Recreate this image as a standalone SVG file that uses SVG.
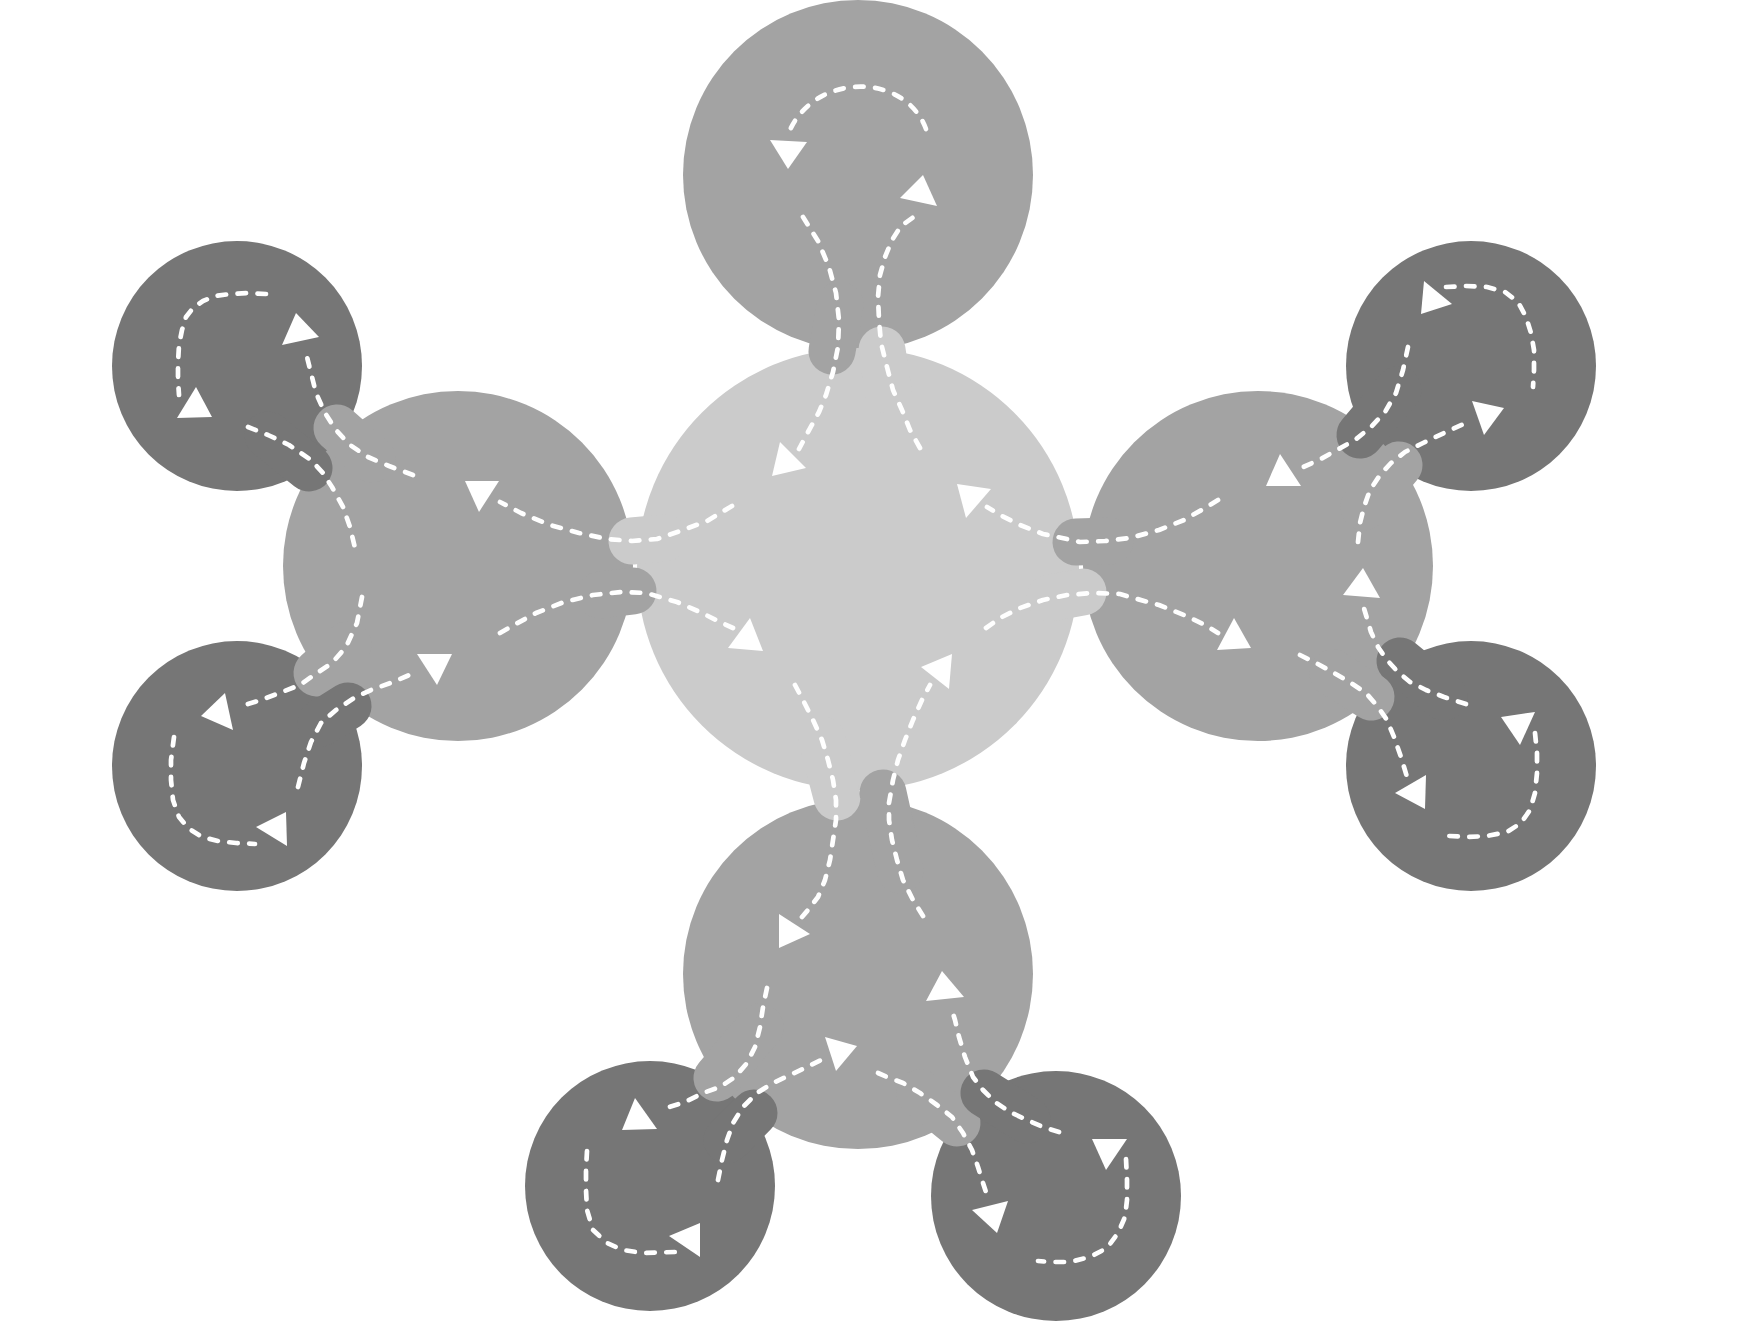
<svg xmlns="http://www.w3.org/2000/svg" width="1748" height="1321" viewBox="0 0 1748 1321">
<style>
.light{fill:#cbcbcb}
.mid{fill:#a3a3a3}
.dark{fill:#767676}
.sl,.sm,.sd{fill:none;stroke-width:47;stroke-linecap:round}
.sl{stroke:#cbcbcb}
.sm{stroke:#a3a3a3}
.sd{stroke:#767676}
.dash{fill:none;stroke:#fff;stroke-width:4.7;stroke-linecap:round;stroke-linejoin:round;stroke-dasharray:8.5 11.5}
.arrow{fill:#fff}
</style>
<rect width="1748" height="1321" fill="#fff"/>
<g id="nodes">
<g id="node-tl"><circle class="dark" cx="237" cy="366" r="125"/></g>
<g id="node-bl"><circle class="dark" cx="237" cy="766" r="125"/></g>
<g id="node-tr"><circle class="dark" cx="1471" cy="366" r="125"/></g>
<g id="node-br"><circle class="dark" cx="1471" cy="766" r="125"/></g>
<g id="node-bbl"><circle class="dark" cx="650" cy="1186" r="125"/></g>
<g id="node-bbr"><circle class="dark" cx="1056" cy="1196" r="125"/></g>
<g id="node-top"><circle class="mid" cx="858" cy="175" r="175"/></g>
<g id="node-left"><circle class="mid" cx="458" cy="566" r="175"/></g>
<g id="node-right"><circle class="mid" cx="1258" cy="566" r="175"/></g>
<g id="node-bottom"><circle class="mid" cx="858" cy="974" r="175"/></g>
<g id="node-center"><circle class="light" cx="858" cy="569" r="221"/></g>
</g>
<g id="connectors">
<g id="stubs">
<path class="sm" d="M840,305 L832,351"/>
<path class="sl" d="M888,390 L882,350"/>
<path class="sl" d="M665,538 L632,541"/>
<path class="sm" d="M600,595 L633,591"/>
<path class="sm" d="M1110,541 L1076,542"/>
<path class="sl" d="M1050,598 L1083,592"/>
<path class="sm" d="M372,459 L337,428"/>
<path class="sd" d="M268,435 L309,468"/>
<path class="sm" d="M348,645 L317,673"/>
<path class="sd" d="M321,723 L348,706"/>
<path class="sd" d="M1398,390 L1360,435"/>
<path class="sm" d="M1364,507 L1399,465"/>
<path class="sd" d="M1444,697 L1400,661"/>
<path class="sm" d="M1333,673 L1371,697"/>
<path class="sl" d="M822,740 L837,797"/>
<path class="sm" d="M900,870 L883,793"/>
<path class="sm" d="M760,1027 L717,1078"/>
<path class="sd" d="M727,1140 L754,1113"/>
<path class="sm" d="M920,1093 L957,1123"/>
<path class="sd" d="M1027,1120 L984,1093"/>
</g>
<g id="dashes">
<path class="dash" d="M926,129 C905,72 815,72 789,132"/>
<path class="dash" d="M803,217 L818,241 L829,267 L836,293 L839,320 L838,347 L833,372 L826,395 L819,412 L808,432 L799,449"/>
<path class="dash" d="M920,448 L910,430 L902,410 L893,390 L887,367 L881,343 L879,320 L878,297 L880,275 L885,257 L892,240 L901,226 L915,216"/>
<path class="dash" d="M732,506 L707,521 L683,530 L657,539 L632,541 L607,539 L579,533 L550,525 L521,513 L500,502"/>
<path class="dash" d="M500,633 L514,625 L536,613 L564,602 L593,595 L621,592 L646,593 L677,602 L700,612 L720,622 L733,628"/>
<path class="dash" d="M1218,500 L1205,508 L1184,520 L1159,530 L1130,538 L1105,541 L1080,542 L1067,539 L1043,534 L1020,525 L1000,515 L987,507"/>
<path class="dash" d="M986,628 L1000,618 L1020,608 L1043,600 L1067,595 L1093,593 L1120,594 L1130,597 L1159,605 L1184,615 L1205,625 L1218,633"/>
<path class="dash" d="M795,685 L803,700 L813,720 L822,740 L828,760 L833,780 L836,800 L836,820 L833,840 L830,860 L825,880 L818,897 L808,910 L802,917"/>
<path class="dash" d="M923,916 L913,900 L903,880 L897,860 L892,840 L889,820 L889,803 L893,780 L898,760 L905,740 L913,720 L922,700 L930,685"/>
<path class="dash" d="M266,294 L247,293 L230,294 L215,296 L203,301 L193,308 L186,317 L182,330 L179,345 L178,363 L178,380 L179,395"/>
<path class="dash" d="M413,475 L389,466 L368,457 L350,445 L336,430 L325,413 L316,393 L311,373 L306,353"/>
<path class="dash" d="M248,427 L268,435 L289,445 L311,460 L323,473 L332,487 L343,507 L350,527 L355,548"/>
<path class="dash" d="M362,597 L357,623 L346,647 L332,663 L314,675 L300,685 L282,692 L261,700 L245,705"/>
<path class="dash" d="M298,787 L304,763 L311,742 L321,723 L336,710 L354,698 L371,690 L393,682 L414,673"/>
<path class="dash" d="M174,737 L171,760 L171,780 L173,800 L179,817 L188,828 L202,837 L218,841 L236,843 L255,844"/>
<path class="dash" d="M1446,287 L1466,286 L1487,287 L1505,292 L1518,302 L1526,317 L1531,333 L1534,350 L1534,370 L1533,387"/>
<path class="dash" d="M1408,347 L1403,370 L1396,393 L1385,412 L1371,427 L1355,440 L1337,450 L1319,460 L1301,468"/>
<path class="dash" d="M1358,542 L1360,523 L1364,507 L1370,490 L1380,475 L1391,463 L1405,452 L1423,443 L1444,433 L1468,422"/>
<path class="dash" d="M1466,704 L1444,697 L1426,690 L1410,682 L1398,672 L1387,660 L1378,647 L1371,632 L1366,615 L1362,602"/>
<path class="dash" d="M1300,655 L1316,663 L1334,673 L1351,683 L1366,693 L1378,707 L1387,720 L1394,737 L1401,757 L1407,777"/>
<path class="dash" d="M1535,733 L1537,753 L1537,773 L1535,793 L1530,810 L1521,823 L1507,832 L1487,836 L1468,837 L1449,836"/>
<path class="dash" d="M767,988 L763,1007 L760,1027 L755,1047 L747,1063 L735,1077 L720,1087 L703,1093 L685,1102 L660,1110"/>
<path class="dash" d="M718,1180 L722,1160 L727,1140 L733,1123 L743,1107 L757,1093 L773,1083 L790,1075 L807,1067 L825,1058"/>
<path class="dash" d="M587,1151 L586,1170 L586,1190 L587,1210 L593,1230 L607,1243 L623,1250 L643,1253 L675,1252"/>
<path class="dash" d="M878,1073 L887,1077 L903,1083 L920,1093 L937,1105 L952,1117 L963,1133 L972,1150 L978,1167 L983,1183 L987,1195"/>
<path class="dash" d="M1059,1132 L1043,1127 L1027,1120 L1010,1112 L995,1102 L983,1090 L973,1077 L965,1057 L959,1037 L955,1020 L952,1010"/>
<path class="dash" d="M1126,1159 L1127,1180 L1127,1200 L1125,1217 L1118,1233 L1107,1248 L1090,1257 L1070,1262 L1050,1262 L1038,1261"/>
</g>
<g id="arrows">
<polygon class="arrow" points="770,140 807,142 788,169"/>
<polygon class="arrow" points="923,175 937,206 900,198"/>
<polygon class="arrow" points="780,442 806,468 772,476"/>
<polygon class="arrow" points="750,618 763,651 728,648"/>
<polygon class="arrow" points="957,484 991,489 966,518"/>
<polygon class="arrow" points="921,667 952,654 949,689"/>
<polygon class="arrow" points="465,481 499,481 479,512"/>
<polygon class="arrow" points="417,654 452,654 437,685"/>
<polygon class="arrow" points="1280,454 1301,486 1266,486"/>
<polygon class="arrow" points="1363,568 1380,598 1343,595"/>
<polygon class="arrow" points="1234,618 1251,648 1217,650"/>
<polygon class="arrow" points="779,914 810,934 779,948"/>
<polygon class="arrow" points="942,971 964,997 926,1001"/>
<polygon class="arrow" points="825,1037 857,1046 836,1071"/>
<polygon class="arrow" points="296,313 319,337 282,345"/>
<polygon class="arrow" points="196,387 212,417 177,418"/>
<polygon class="arrow" points="225,693 233,730 201,716"/>
<polygon class="arrow" points="256,827 286,812 287,846"/>
<polygon class="arrow" points="1424,281 1452,304 1421,314"/>
<polygon class="arrow" points="1472,401 1504,408 1484,435"/>
<polygon class="arrow" points="1426,775 1425,809 1395,793"/>
<polygon class="arrow" points="1501,717 1535,712 1520,745"/>
<polygon class="arrow" points="635,1098 657,1129 622,1130"/>
<polygon class="arrow" points="669,1236 700,1223 700,1257"/>
<polygon class="arrow" points="972,1210 1008,1201 997,1233"/>
<polygon class="arrow" points="1092,1139 1127,1139 1106,1170"/>
</g>
</g>
</svg>
